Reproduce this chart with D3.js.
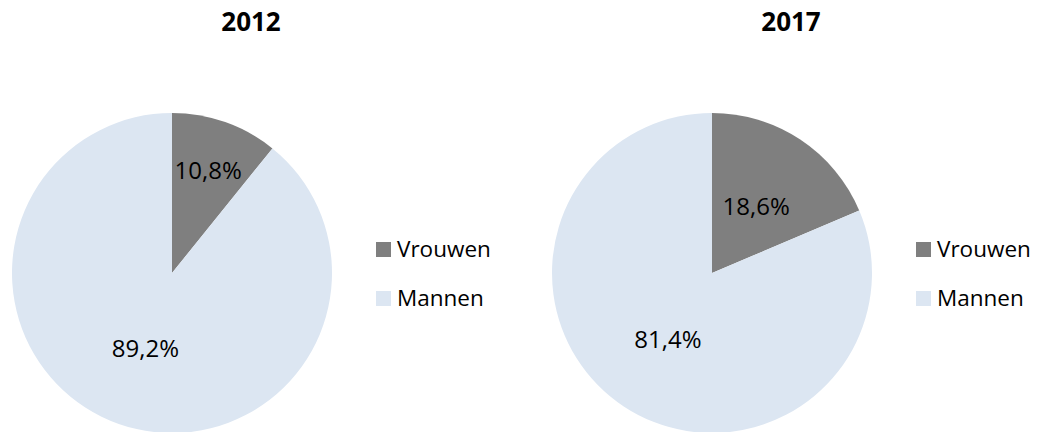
<!DOCTYPE html>
<meta charset="utf-8">
<script src="https://d3js.org/d3.v7.min.js"></script>
<style>
  body { margin: 0; background: #fff; }
  text { font-family: "Open Sans", sans-serif; fill: #000; }
</style>
<div id="chart"></div>
<script>
// data
const years = ["2012", "2017"];
const categories = ["Vrouwen", "Mannen"];
const vrouwen = [10.8, 18.6];
const mannen = [89.2, 81.4];
const colors = ["#7f7f7f", "#dce6f2"];

const width = 1040, height = 432;
const radius = 160;

const svg = d3.select("#chart")
  .append("svg")
  .attr("width", width)
  .attr("height", height);

// one panel per year
const panelX = d3.scaleOrdinal().domain(years).range([0, 540]);
const color = d3.scaleOrdinal().domain(categories).range(colors);

const pie = d3.pie().sort(null).value(d => d.value);
const arc = d3.arc().innerRadius(0).outerRadius(radius);

years.forEach((year, i) => {
  const values = [
    { cat: categories[0], value: vrouwen[i] },
    { cat: categories[1], value: mannen[i] }
  ];

  const g = svg.append("g")
    .attr("transform", `translate(${panelX(year)},0)`);

  // title
  g.append("text")
    .attr("x", 251)
    .attr("y", 31)
    .attr("text-anchor", "middle")
    .style("font-size", "26px")
    .style("font-weight", "bold")
    .text(year);

  const pg = g.append("g")
    .attr("transform", `translate(172,273)`);

  const arcs = pie(values);

  pg.selectAll("path")
    .data(arcs)
    .join("path")
    .attr("d", arc)
    .attr("fill", d => color(d.data.cat));

  // labels: small slices sit further out (best fit)
  pg.selectAll("text.lbl")
    .data(arcs)
    .join("text")
    .attr("class", "lbl")
    .attr("transform", d => {
      const share = (d.endAngle - d.startAngle) / (2 * Math.PI);
      const r = share < 0.15 ? radius * 0.68 : radius * 0.5;
      const a = (d.startAngle + d.endAngle) / 2;
      return `translate(${Math.sin(a) * r},${-Math.cos(a) * r})`;
    })
    .attr("text-anchor", "middle")
    .attr("dy", "0.36em")
    .style("font-size", "24px")
    .text(d => d.data.value.toFixed(1).replace(".", ",") + "%");

  // legend
  const lg = g.append("g")
    .attr("transform", "translate(376,242)");
  const item = lg.selectAll("g")
    .data(categories)
    .join("g")
    .attr("transform", (d, j) => `translate(0,${j * 49})`);
  item.append("rect")
    .attr("width", 15)
    .attr("height", 15)
    .attr("fill", d => color(d));
  item.append("text")
    .attr("x", 21)
    .attr("y", 15)
    .style("font-size", "22.5px")
    .text(d => d);
});
</script>
